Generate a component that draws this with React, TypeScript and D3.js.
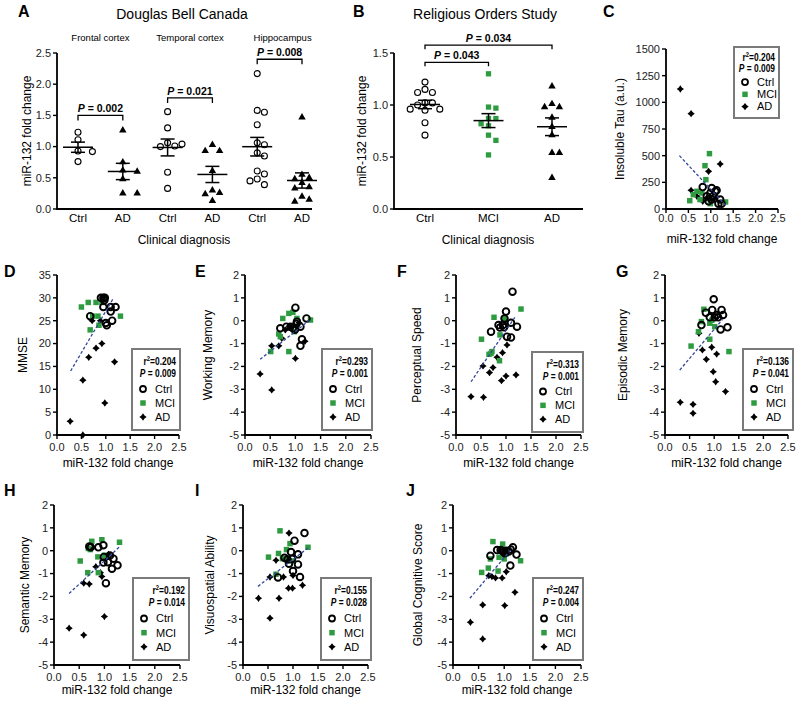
import React from 'react';
import * as d3 from 'd3';

const FONT = "'Liberation Sans', Arial, Helvetica, sans-serif";
const NARROW = "'Liberation Sans Narrow', 'Arial Narrow', 'Liberation Sans', Arial, sans-serif";
const GREEN = '#2e9b40';
const FIT = '#34489a';

// ---------------- Data: Douglas Bell Canada (A) ----------------
const dbcRegions = ['Frontal cortex', 'Temporal cortex', 'Hippocampus'];
const dbcCategories = ['Ctrl', 'AD', 'Ctrl', 'AD', 'Ctrl', 'AD'];
const frontalCtrl = [1.23, 1.11, 0.93, 0.92, 0.76];
const frontalAD = [1.26, 0.75, 0.62, 0.6, 0.48, 0.25, 0.25];
const temporalCtrl = [1.56, 1.3, 1.04, 1.01, 1.0, 1.06, 0.59, 0.33];
const temporalAD = [1.03, 0.93, 0.93, 0.61, 0.3, 0.26, 0.24, 0.13];
const hippoCtrl = [2.17, 1.58, 1.55, 1.35, 1.06, 1.03, 0.9, 0.85, 0.61, 0.56, 0.48, 0.45, 0.39];
const hippoAD = [1.47, 0.55, 0.5, 0.48, 0.42, 0.35, 0.33, 0.2, 0.15, 0.12];
const dbcPValues = ['0.002', '0.021', '0.008'];
const dbcTicks = [0, 0.5, 1, 1.5, 2, 2.5];

// ---------------- Data: Religious Orders Study (B) ----------------
const rosCategories = ['Ctrl', 'MCI', 'AD'];
const rosCtrl = [1.22, 1.15, 1.12, 1.12, 1.02, 1.02, 1.0, 0.96, 0.95, 0.96, 0.83, 0.71];
const rosMCI = [1.3, 0.97, 0.98, 0.87, 0.87, 0.82, 0.8, 0.71, 0.66, 0.52];
const rosAD = [1.18, 1.01, 0.98, 0.98, 0.88, 0.79, 0.71, 0.54, 0.54, 0.3];
const rosPValues = ['0.043', '0.034'];
const rosTicks = [0, 0.5, 1, 1.5];

// ---------------- Data: scatter panels (x = miR-132 fold change) ----------------
const xTicks = [0, 0.5, 1, 1.5, 2, 2.5];
const cogTicks = [-5, -4, -3, -2, -1, 0, 1, 2];

const tauCtrl = [[0.82, 206], [1.02, 197], [1.13, 175], [1.06, 125], [0.91, 119], [1.02, 88], [1.17, 50], [1.21, 88], [1.24, 50], [0.99, 150], [1.1, 165], [0.95, 72]];
const tauMCI = [[0.97, 519], [0.87, 406], [0.89, 275], [0.69, 166], [0.53, 78], [0.76, 88], [0.99, 50], [1.33, 66], [0.61, 134], [0.8, 150]];
const tauAD = [[0.32, 1125], [0.56, 894], [1.21, 422], [0.95, 353], [0.56, 175], [0.69, 119], [0.82, 72], [1.02, 81], [0.91, 103], [1.13, 112]];
const tauFit = [[0.3, 500], [1.33, 35]];

const mmseCtrl = [[0.68, 26], [0.9, 30], [0.95, 30], [0.98, 30], [0.95, 28], [1.1, 28], [1.2, 28], [1.1, 27], [1.13, 25], [1.02, 24], [1.0, 24.5], [0.97, 29.5]];
const mmseMCI = [[0.5, 28], [0.64, 29], [0.8, 29], [0.73, 26], [0.84, 26], [0.68, 23], [0.86, 24], [1.3, 26], [0.92, 29], [0.98, 30]];
const mmseAD = [[0.27, 3], [0.53, 12], [0.53, 0], [0.65, 17], [0.8, 19], [0.92, 20], [1.18, 16], [0.98, 7], [0.72, 25], [0.89, 25]];
const mmseFit = [[0.28, 14], [1.16, 30]];

const wmCtrl = [[1.0, 0.57], [0.7, -0.33], [0.82, -0.26], [1.03, -0.04], [1.22, 0.1], [1.1, -0.26], [1.13, -0.81], [1.1, -1.1], [0.95, -0.33], [1.02, -0.14], [0.9, -0.26], [0.99, -0.4]];
const wmMCI = [[0.51, -1.35], [0.67, -0.58], [0.7, -0.7], [0.75, 0.1], [0.87, 0.32], [0.95, 0.37], [0.98, -0.48], [0.87, -1.35], [1.3, 0.03], [1.03, 0.1]];
const wmAD = [[0.3, -2.33], [0.53, -3.03], [0.53, -1.1], [0.67, -1.1], [0.8, -0.4], [1.0, -1.65], [0.9, -0.26], [1.19, -0.9], [1.07, -0.09], [0.73, -0.77]];
const wmFit = [[0.3, -1.69], [1.3, 0.06]];

const psCtrl = [[1.13, 1.27], [1.0, 0.4], [0.7, -0.48], [0.85, -0.19], [0.94, -0.19], [0.96, -0.29], [1.1, -0.09], [1.22, -0.26], [1.02, -0.7], [1.1, -0.73], [0.97, 0.1], [0.88, -0.3]];
const psMCI = [[0.51, -0.81], [0.76, 0.15], [0.96, 0.1], [1.3, 0.51], [0.88, -0.62], [0.7, -1.43], [0.66, -1.47], [0.87, -1.75], [0.98, 0.02], [0.72, -1.35]];
const psAD = [[0.3, -3.32], [0.55, -3.35], [0.54, -1.98], [0.67, -2.27], [0.74, -2.05], [0.82, -1.6], [0.93, -1.4], [0.91, -2.62], [1.0, -2.42], [1.2, -2.37], [1.02, -1.06]];
const psFit = [[0.3, -2.67], [1.2, 0.22]];

const emCtrl = [[0.99, 0.94], [0.96, 0.47], [1.15, 0.47], [0.83, 0.35], [1.05, 0.25], [1.18, 0.25], [0.91, 0.15], [1.01, 0.15], [0.74, -0.19], [1.13, -0.38], [1.27, -0.29], [1.08, 0.15]];
const emMCI = [[0.79, 0.5], [0.74, -0.04], [0.68, -0.48], [0.99, 0.2], [0.91, -0.11], [1.01, -0.26], [0.91, -0.81], [0.53, -1.11], [1.3, -1.35], [0.95, 0.02]];
const emAD = [[0.31, -3.57], [0.57, -3.66], [0.57, -4.05], [0.69, -0.55], [0.76, -1.28], [0.84, -1.69], [0.95, -1.16], [1.05, -1.46], [0.98, -2.23], [1.03, -2.67], [1.23, -3.1]];
const emFit = [[0.3, -2.16], [1.17, 0.06]];

const smCtrl = [[0.73, 0.15], [0.88, 0.15], [0.98, 0.24], [0.99, -0.27], [1.15, -0.79], [1.26, -0.64], [1.03, -1.42], [1.18, -0.35], [1.07, -0.5], [1.11, -0.21], [0.98, -0.52], [0.7, 0.18]];
const smMCI = [[0.52, -0.45], [0.75, 0.41], [0.72, 0.05], [0.95, 0.48], [1.3, 0.37], [0.87, -0.27], [0.67, -0.96], [0.88, -0.96], [0.68, 0.1], [1.0, -0.2]];
const smAD = [[0.3, -3.39], [0.59, -3.69], [1.0, -2.88], [0.59, -1.42], [0.7, -1.46], [0.83, -0.7], [0.95, -1.13], [0.92, -0.96], [1.08, -0.16], [1.05, -0.3]];
const smFit = [[0.3, -1.87], [1.3, 0.17]];

const vaCtrl = [[1.23, 0.77], [1.03, 0.44], [1.1, -0.16], [0.96, -0.06], [0.83, -0.31], [0.92, -0.57], [1.1, -0.6], [1.0, -0.89], [1.14, -1.15], [0.7, -1.17], [0.89, -0.38], [0.98, -0.36]];
const vaMCI = [[0.74, 0.87], [0.51, -0.28], [0.71, -0.12], [0.94, 0.31], [0.87, 0.05], [1.3, 0.15], [0.85, -0.38], [0.97, -0.45], [0.66, -1.03], [0.79, -0.35]];
const vaAD = [[0.31, -2.08], [0.54, -2.95], [0.72, -2.08], [0.66, -0.42], [0.81, -1.15], [0.54, -1.15], [0.92, 0.77], [0.91, -1.64], [0.99, -1.64], [1.19, -1.51], [1.0, -1.08]];
const vaFit = [[0.3, -1.56], [1.3, 0.12]];

const gcCtrl = [[0.73, -0.22], [0.86, 0.03], [0.96, 0.0], [1.04, 0.0], [1.17, 0.15], [1.24, -0.17], [1.12, -0.65], [1.01, -0.11], [0.93, 0.03], [1.09, -0.03], [1.13, 0.05], [0.99, -0.05]];
const gcMCI = [[0.56, -0.95], [0.69, -0.76], [0.78, 0.4], [0.97, 0.29], [0.73, -0.36], [0.9, -0.29], [1.0, -0.36], [1.32, -0.44], [0.88, -0.89], [1.04, -0.14]];
const gcAD = [[0.34, -3.13], [0.58, -3.86], [0.58, -2.37], [1.01, -2.4], [1.21, -1.82], [0.7, -1.09], [0.83, -1.19], [0.96, -1.19], [1.04, -0.92], [0.76, -1.13]];
const gcFit = [[0.33, -2.08], [1.16, 0.12]];

const scatterPanels = [
  { key: 'C', yLabel: 'Insoluble Tau (a.u.)', yDomain: [0, 1500], yTicks: [0, 250, 500, 750, 1000, 1250, 1500], ctrl: tauCtrl, mci: tauMCI, ad: tauAD, fit: tauFit, r2: '0.204', p: '0.009' },
  { key: 'D', yLabel: 'MMSE', yDomain: [0, 35], yTicks: [0, 5, 10, 15, 20, 25, 30, 35], ctrl: mmseCtrl, mci: mmseMCI, ad: mmseAD, fit: mmseFit, r2: '0.204', p: '0.009' },
  { key: 'E', yLabel: 'Working Memory', yDomain: [-5, 2], yTicks: cogTicks, ctrl: wmCtrl, mci: wmMCI, ad: wmAD, fit: wmFit, r2: '0.293', p: '0.001' },
  { key: 'F', yLabel: 'Perceptual Speed', yDomain: [-5, 2], yTicks: cogTicks, ctrl: psCtrl, mci: psMCI, ad: psAD, fit: psFit, r2: '0.313', p: '0.001' },
  { key: 'G', yLabel: 'Episodic Memory', yDomain: [-5, 2], yTicks: cogTicks, ctrl: emCtrl, mci: emMCI, ad: emAD, fit: emFit, r2: '0.136', p: '0.041' },
  { key: 'H', yLabel: 'Semantic Memory', yDomain: [-5, 2], yTicks: cogTicks, ctrl: smCtrl, mci: smMCI, ad: smAD, fit: smFit, r2: '0.192', p: '0.014' },
  { key: 'I', yLabel: 'Visuospatial Ability', yDomain: [-5, 2], yTicks: cogTicks, ctrl: vaCtrl, mci: vaMCI, ad: vaAD, fit: vaFit, r2: '0.155', p: '0.028' },
  { key: 'J', yLabel: 'Global Cognitive Score', yDomain: [-5, 2], yTicks: cogTicks, ctrl: gcCtrl, mci: gcMCI, ad: gcAD, fit: gcFit, r2: '0.247', p: '0.004' },
];

// ---------------- Layout (positions / sizes) ----------------
const scatterLayout: Record<string, any> = {
  C: { x0: 666, x1: 778, yTop: 49, yBot: 209, labX: 620, tickDy: 13, titleY: 243, letter: [603, 17], legend: { x: 734, y: 47, w: 45, h: 71 } },
  D: { x0: 57, x1: 179, yTop: 275, yBot: 435, labX: 23, tickDy: 16, titleY: 467, letter: [4, 277], legend: { x: 132, y: 349, w: 48, h: 81 } },
  E: { x0: 245, x1: 371, yTop: 275, yBot: 435, labX: 208, tickDy: 16, titleY: 467, letter: [195, 277], legend: { x: 322, y: 349, w: 50, h: 81 } },
  F: { x0: 456, x1: 581, yTop: 275, yBot: 435, labX: 417, tickDy: 16, titleY: 467, letter: [397, 277], legend: { x: 532, y: 352, w: 51, h: 80 } },
  G: { x0: 665, x1: 788, yTop: 275, yBot: 435, labX: 623, tickDy: 16, titleY: 467, letter: [616, 277], legend: { x: 743, y: 349, w: 50, h: 81 } },
  H: { x0: 54, x1: 180, yTop: 505, yBot: 665, labX: 25, tickDy: 16, titleY: 694, letter: [4, 496], legend: { x: 133, y: 578, w: 56, h: 82 } },
  I: { x0: 243, x1: 368, yTop: 505, yBot: 665, labX: 210, tickDy: 16, titleY: 694, letter: [195, 496], legend: { x: 321, y: 578, w: 50, h: 82 } },
  J: { x0: 453, x1: 581, yTop: 505, yBot: 665, labX: 418, tickDy: 16, titleY: 694, letter: [406, 496], legend: { x: 533, y: 578, w: 50, h: 82 } },
};

// ---------------- Symbols ----------------
const star4: d3.SymbolType = {
  draw(ctx: any, size: number) {
    const r = Math.sqrt(size) / 1.5;
    const s = r * 0.42;
    ctx.moveTo(0, -r);
    ctx.lineTo(s, -s);
    ctx.lineTo(r, 0);
    ctx.lineTo(s, s);
    ctx.lineTo(0, r);
    ctx.lineTo(-s, s);
    ctx.lineTo(-r, 0);
    ctx.lineTo(-s, -s);
    ctx.closePath();
  },
};
const triPath = d3.symbol().type(d3.symbolTriangle).size(24)() as string;
const sqPathB = d3.symbol().type(d3.symbolSquare).size(28)() as string;
const sqPath = d3.symbol().type(d3.symbolSquare).size(30)() as string;
const starPath = d3.symbol().type(star4).size(30)() as string;

function swarm(vals: number[], y: (v: number) => number, cx: number, r: number, step: number) {
  const order = vals.map((v, i) => i).sort((a, b) => vals[b] - vals[a]);
  const placed: { x: number; y: number }[] = [];
  const out: { x: number; y: number }[] = new Array(vals.length);
  for (const i of order) {
    const py = y(vals[i]);
    let k = 0;
    const cands = [0];
    for (let j = 1; j < 8; j++) { cands.push(j, -j); }
    for (const c of cands) {
      const px = cx + c * step;
      if (placed.every((p) => Math.hypot(p.x - px, p.y - py) >= 2 * r + 0.6)) { k = c; break; }
    }
    const pt = { x: cx + k * step, y: py };
    placed.push(pt);
    out[i] = pt;
  }
  return out;
}

function MeanSem({ vals, cx, y }: { vals: number[]; cx: number; y: any }) {
  const m = d3.mean(vals) as number;
  const sem = (d3.deviation(vals) as number) / Math.sqrt(vals.length);
  const s = { stroke: '#000', strokeWidth: 1.5 };
  return (
    <g>
      <line x1={cx - 15} x2={cx + 15} y1={y(m)} y2={y(m)} {...s} />
      <line x1={cx} x2={cx} y1={y(m + sem)} y2={y(m - sem)} {...s} />
      <line x1={cx - 7} x2={cx + 7} y1={y(m + sem)} y2={y(m + sem)} {...s} />
      <line x1={cx - 7} x2={cx + 7} y1={y(m - sem)} y2={y(m - sem)} {...s} />
    </g>
  );
}

function YAxis({ x, y, ticks, fmt, fs = 11 }: any) {
  const [r0, r1] = y.range();
  return (
    <g>
      <line x1={x} x2={x} y1={r0 + 1} y2={r1} stroke="#000" strokeWidth={1.8} />
      {ticks.map((t: number) => (
        <g key={t}>
          <line x1={x - 4} x2={x} y1={y(t)} y2={y(t)} stroke="#000" strokeWidth={1.4} />
          <text x={x - 6} y={y(t)} dy="0.35em" textAnchor="end" fontSize={fs} fill="#222">{fmt(t)}</text>
        </g>
      ))}
    </g>
  );
}

function PText({ x, y, p }: any) {
  return (
    <text x={x} y={y} textAnchor="middle" fontSize={10.5} fontWeight="bold">
      <tspan fontStyle="italic">P</tspan> = {p}
    </text>
  );
}

function Bracket({ xa, xb, yy, p, leg = 5 }: any) {
  return (
    <g>
      <path d={`M${xa},${yy + leg}V${yy}H${xb}V${yy + leg}`} fill="none" stroke="#000" strokeWidth={1.3} />
      <PText x={(xa + xb) / 2} y={yy - 3} p={p} />
    </g>
  );
}

function PanelA() {
  const y = d3.scaleLinear().domain([0, 2.5]).range([209, 53]);
  const x = d3.scalePoint<number>().domain([0, 1, 2, 3, 4, 5]).range([78, 302]);
  const groups = [frontalCtrl, frontalAD, temporalCtrl, temporalAD, hippoCtrl, hippoAD];
  const levels = [1.5, 1.78, 2.4];
  const fmt = d3.format('.1f');
  return (
    <g>
      <text x={18} y={17} fontSize={16} fontWeight="bold">A</text>
      <text x={182} y={19} textAnchor="middle" fontSize={14}>Douglas Bell Canada</text>
      {dbcRegions.map((r, i) => (
        <text key={r} x={((x(2 * i) as number) + (x(2 * i + 1) as number)) / 2 + (i === 2 ? 3 : 0)} y={41} textAnchor="middle" fontSize={9.5}>{r}</text>
      ))}
      <YAxis x={57} y={y} ticks={dbcTicks} fmt={fmt} />
      <line x1={56} x2={312} y1={209} y2={209} stroke="#000" strokeWidth={1.8} />
      {dbcCategories.map((c, i) => (
        <text key={i} x={x(i) as number} y={222} textAnchor="middle" fontSize={11.5}>{c}</text>
      ))}
      <text x={184} y={244} textAnchor="middle" fontSize={12}>Clinical diagnosis</text>
      <text transform={`translate(27,131) rotate(-90)`} textAnchor="middle" dy="0.35em" fontSize={12}>miR-132 fold change</text>
      {groups.map((g, gi) => {
        const cx = x(gi) as number;
        const pts = swarm(g, y, cx, 3.4, 7.2);
        return (
          <g key={gi}>
            {pts.map((p, i) =>
              gi % 2 === 0 ? (
                <circle key={i} cx={p.x} cy={p.y} r={3} fill="#fff" stroke="#000" strokeWidth={1.1} />
              ) : (
                <path key={i} d={triPath} transform={`translate(${p.x},${p.y})`} fill="#000" />
              )
            )}
            <MeanSem vals={g} cx={cx} y={y} />
          </g>
        );
      })}
      {levels.map((l, i) => (
        <Bracket key={i} xa={x(2 * i)} xb={x(2 * i + 1)} yy={y(l)} p={dbcPValues[i]} />
      ))}
    </g>
  );
}

function PanelB() {
  const y = d3.scaleLinear().domain([0, 1.5]).range([209, 53]);
  const x = d3.scalePoint<string>().domain(rosCategories).range([425, 552]);
  const groups = [rosCtrl, rosMCI, rosAD];
  const fmt = d3.format('.1f');
  return (
    <g>
      <text x={353} y={17} fontSize={16} fontWeight="bold">B</text>
      <text x={485} y={19} textAnchor="middle" fontSize={14}>Religious Orders Study</text>
      <YAxis x={394} y={y} ticks={rosTicks} fmt={fmt} />
      <line x1={393} x2={583} y1={209} y2={209} stroke="#000" strokeWidth={1.8} />
      {rosCategories.map((c) => (
        <text key={c} x={x(c) as number} y={222} textAnchor="middle" fontSize={11.5}>{c}</text>
      ))}
      <text x={488} y={244} textAnchor="middle" fontSize={12}>Clinical diagnosis</text>
      <text transform={`translate(362,131) rotate(-90)`} textAnchor="middle" dy="0.35em" fontSize={12}>miR-132 fold change</text>
      {groups.map((g, gi) => {
        const cx = x(rosCategories[gi]) as number;
        const pts = swarm(g, y, cx, 3.3, 7.4);
        return (
          <g key={gi}>
            {pts.map((p, i) =>
              gi === 0 ? (
                <circle key={i} cx={p.x} cy={p.y} r={3} fill="#fff" stroke="#000" strokeWidth={1.1} />
              ) : gi === 1 ? (
                <path key={i} d={sqPathB} transform={`translate(${p.x},${p.y})`} fill={GREEN} />
              ) : (
                <path key={i} d={triPath} transform={`translate(${p.x},${p.y})`} fill="#000" />
              )
            )}
            <MeanSem vals={g} cx={cx} y={y} />
          </g>
        );
      })}
      <Bracket xa={x('Ctrl')} xb={x('MCI')} yy={y(1.41)} p={rosPValues[0]} leg={4} />
      <Bracket xa={x('Ctrl')} xb={x('AD')} yy={y(1.575)} p={rosPValues[1]} leg={4} />
    </g>
  );
}

function Legend({ box, r2, p }: any) {
  const k = box.h / 81;
  const rows = [40, 54, 68].map((v) => v * k);
  const rx = box.w - 4;
  return (
    <g transform={`translate(${box.x},${box.y})`}>
      <rect x={0} y={0} width={box.w} height={box.h} fill="#fff" stroke="#7a7a7a" strokeWidth={2} />
      <g transform={`translate(${rx},0) scale(0.84,1)`}>
        <text x={0} y={16 * k} textAnchor="end" fontSize={10} fontWeight="bold" fontFamily={NARROW}>
          r<tspan dy={-4} fontSize={7}>2</tspan><tspan dy={4}>={r2}</tspan>
        </text>
        <text x={0} y={28 * k} textAnchor="end" fontSize={10} fontWeight="bold" fontFamily={NARROW}>
          <tspan fontStyle="italic">P</tspan> = {p}
        </text>
      </g>
      <circle cx={11} cy={rows[0]} r={3} fill="none" stroke="#000" strokeWidth={1.8} />
      <path d={sqPath} transform={`translate(11,${rows[1]})`} fill={GREEN} />
      <path d={starPath} transform={`translate(11,${rows[2]})`} fill="#000" />
      <text x={23} y={rows[0]} dy="0.35em" fontSize={11}>Ctrl</text>
      <text x={23} y={rows[1]} dy="0.35em" fontSize={11}>MCI</text>
      <text x={23} y={rows[2]} dy="0.35em" fontSize={11}>AD</text>
    </g>
  );
}

function Scatter({ panel, lay }: any) {
  const x = d3.scaleLinear().domain([0, 2.5]).range([lay.x0, lay.x1]);
  const y = d3.scaleLinear().domain(panel.yDomain).range([lay.yBot, lay.yTop]);
  const xf = d3.format('.1f');
  const yf = (t: number) => String(t);
  const cxT = (lay.x0 + lay.x1) / 2;
  return (
    <g>
      <text x={lay.letter[0]} y={lay.letter[1]} fontSize={16} fontWeight="bold">{panel.key}</text>
      <YAxis x={lay.x0} y={y} ticks={panel.yTicks} fmt={yf} />
      <line x1={lay.x0 - 1} x2={lay.x1} y1={lay.yBot} y2={lay.yBot} stroke="#000" strokeWidth={1.8} />
      {xTicks.map((t) => (
        <g key={t}>
          <line x1={x(t)} x2={x(t)} y1={lay.yBot} y2={lay.yBot + 4} stroke="#000" strokeWidth={1.4} />
          <text x={x(t)} y={lay.yBot + lay.tickDy} textAnchor="middle" fontSize={11} fill="#222">{xf(t)}</text>
        </g>
      ))}
      <text x={cxT} y={lay.titleY} textAnchor="middle" fontSize={12}>miR-132 fold change</text>
      <text transform={`translate(${lay.labX},${(lay.yTop + lay.yBot) / 2}) rotate(-90)`} textAnchor="middle" dy="0.35em" fontSize={12}>{panel.yLabel}</text>
      {panel.ad.map((d: number[], i: number) => (
        <path key={'a' + i} d={starPath} transform={`translate(${x(d[0])},${y(d[1])})`} fill="#000" />
      ))}
      {panel.mci.map((d: number[], i: number) => (
        <path key={'m' + i} d={sqPath} transform={`translate(${x(d[0])},${y(d[1])})`} fill={GREEN} />
      ))}
      {panel.ctrl.map((d: number[], i: number) => (
        <circle key={'c' + i} cx={x(d[0])} cy={y(d[1])} r={3.3} fill="none" stroke="#000" strokeWidth={1.9} />
      ))}
      <line x1={x(panel.fit[0][0])} y1={y(panel.fit[0][1])} x2={x(panel.fit[1][0])} y2={y(panel.fit[1][1])} stroke={FIT} strokeWidth={1.3} strokeDasharray="3,2" />
      <Legend box={lay.legend} r2={panel.r2} p={panel.p} />
    </g>
  );
}

export default function App() {
  return (
    <svg width={800} height={706} viewBox="0 0 800 706" style={{ position: 'absolute', left: 0, top: 0, background: '#fff' }} fontFamily={FONT}>
      <rect width={800} height={706} fill="#fff" />
      <PanelA />
      <PanelB />
      {scatterPanels.map((p) => (
        <Scatter key={p.key} panel={p} lay={scatterLayout[p.key]} />
      ))}
    </svg>
  );
}
